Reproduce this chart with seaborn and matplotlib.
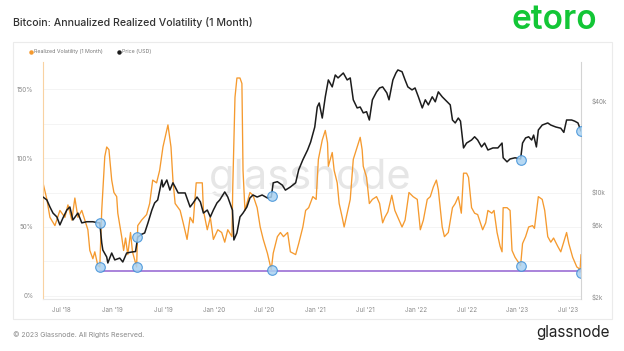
import pandas as pd
import matplotlib.pyplot as plt
from matplotlib.lines import Line2D
from matplotlib.patches import Rectangle
from matplotlib.ticker import MultipleLocator, NullLocator
import seaborn as sns

# ---------------------------
# data
# ---------------------------
vol_dates = [
    "2018-04-24", "2018-05-08", "2018-05-19", "2018-06-06", "2018-06-24", "2018-07-12", "2018-07-23",
    "2018-08-06", "2018-08-17", "2018-08-28", "2018-09-11", "2018-09-22", "2018-10-03", "2018-10-10",
    "2018-10-21", "2018-10-28", "2018-11-08", "2018-11-15", "2018-11-22", "2018-12-03", "2018-12-10",
    "2018-12-18", "2018-12-28",
    "2019-01-05", "2019-01-15", "2019-01-19", "2019-02-02", "2019-02-09", "2019-02-16", "2019-02-24",
    "2019-03-06", "2019-03-13", "2019-03-28", "2019-04-01", "2019-04-15", "2019-05-03", "2019-05-14",
    "2019-05-25", "2019-06-08", "2019-06-19", "2019-07-01", "2019-07-19", "2019-07-30", "2019-08-06",
    "2019-08-14", "2019-09-01", "2019-09-12", "2019-09-26", "2019-10-07", "2019-10-18", "2019-10-29",
    "2019-11-20", "2019-11-24", "2019-12-08", "2019-12-19", "2019-12-30",
    "2020-01-15", "2020-01-29", "2020-02-09", "2020-02-20", "2020-03-06", "2020-03-09", "2020-03-17",
    "2020-03-24", "2020-04-04", "2020-04-11", "2020-04-15", "2020-04-22", "2020-05-03", "2020-05-10",
    "2020-05-21", "2020-06-05", "2020-06-16", "2020-06-27", "2020-07-12", "2020-07-26", "2020-08-02",
    "2020-08-17", "2020-08-28", "2020-09-08", "2020-09-23", "2020-10-03", "2020-10-22", "2020-11-02",
    "2020-11-17", "2020-11-27", "2020-12-08", "2020-12-23",
    "2021-01-04", "2021-01-12", "2021-01-26", "2021-02-06", "2021-02-14", "2021-02-17", "2021-03-03",
    "2021-03-10", "2021-03-21", "2021-03-28", "2021-04-08", "2021-04-15", "2021-04-26", "2021-05-07",
    "2021-05-18", "2021-06-01", "2021-06-12", "2021-06-19", "2021-06-23", "2021-07-05", "2021-07-15",
    "2021-07-26", "2021-08-10", "2021-08-21", "2021-09-01", "2021-09-09", "2021-09-20", "2021-10-04",
    "2021-10-15", "2021-10-26", "2021-11-10", "2021-11-21", "2021-12-05", "2021-12-20",
    "2022-01-04", "2022-01-15", "2022-01-26", "2022-02-09", "2022-02-20", "2022-03-03", "2022-03-14",
    "2022-03-21", "2022-04-04", "2022-04-12", "2022-04-26", "2022-05-11", "2022-05-21", "2022-06-01",
    "2022-06-12", "2022-06-20", "2022-07-01", "2022-07-08", "2022-07-19", "2022-07-30", "2022-08-10",
    "2022-08-28", "2022-09-08", "2022-09-16", "2022-09-30", "2022-10-08", "2022-10-19", "2022-10-30",
    "2022-11-06", "2022-11-10", "2022-11-24", "2022-12-05", "2022-12-12", "2022-12-23",
    "2023-01-12", "2023-01-19", "2023-01-30", "2023-02-10", "2023-02-24", "2023-03-03", "2023-03-17",
    "2023-03-31", "2023-04-09", "2023-04-20", "2023-05-01", "2023-05-11", "2023-05-26", "2023-06-06",
    "2023-06-27", "2023-07-05", "2023-07-19", "2023-08-03", "2023-08-10", "2023-08-14", "2023-08-18",
]
vol_values = [
    82, 70, 57, 51, 62, 57, 66, 55, 71, 57, 62, 55, 48, 33, 27, 32, 22, 21, 62, 101, 108, 106, 84,
    75, 72, 60, 43, 33, 42, 30, 46, 32, 21, 51, 55, 59, 67, 84, 82, 91, 108, 124, 108, 84, 67, 62, 53,
    41, 57, 53, 82, 82, 62, 48, 57, 41,
    48, 46, 39, 48, 43, 79, 144, 158, 158, 154, 91, 62, 70, 75, 73, 64, 50, 41, 31, 19, 31, 43, 46, 43,
    46, 32, 30, 38, 50, 62, 64, 72,
    70, 99, 113, 120, 111, 94, 104, 91, 82, 67, 57, 50, 60, 70, 99, 108, 115, 106, 94, 86, 67, 70, 72,
    67, 53, 57, 61, 73, 62, 57, 50, 55, 75, 72,
    70, 48, 55, 70, 72, 79, 84, 77, 50, 43, 46, 64, 67, 72, 60, 89, 89, 86, 64, 60, 59, 48, 53, 62, 60,
    62, 46, 36, 32, 64, 64, 62, 33, 28,
    22, 38, 43, 50, 51, 49, 72, 70, 62, 43, 39, 42, 36, 32, 46, 38, 28, 21, 20, 17, 30,
]

price_dates = [
    "2018-04-24", "2018-05-08", "2018-05-19", "2018-05-30", "2018-06-13", "2018-06-24", "2018-07-05",
    "2018-07-19", "2018-07-30", "2018-08-10", "2018-08-28", "2018-09-11", "2018-09-29", "2018-10-21",
    "2018-11-08", "2018-11-15", "2018-11-22", "2018-11-26", "2018-12-10", "2018-12-14", "2018-12-28",
    "2019-01-08", "2019-01-26", "2019-02-06", "2019-02-20", "2019-03-10", "2019-03-24", "2019-04-01",
    "2019-04-15", "2019-04-26", "2019-05-08", "2019-05-22", "2019-06-01", "2019-06-12", "2019-06-27",
    "2019-07-01", "2019-07-15", "2019-07-26", "2019-08-06", "2019-08-14", "2019-08-25", "2019-09-19",
    "2019-10-07", "2019-10-18", "2019-11-01", "2019-11-13", "2019-11-24", "2019-12-08", "2019-12-19",
    "2019-12-30",
    "2020-01-12", "2020-01-22", "2020-02-09", "2020-02-20", "2020-03-08", "2020-03-13", "2020-03-24",
    "2020-04-04", "2020-04-15", "2020-04-29", "2020-05-10", "2020-05-21", "2020-06-05", "2020-06-23",
    "2020-07-12", "2020-07-26", "2020-08-02", "2020-08-17", "2020-09-04", "2020-09-15", "2020-10-03",
    "2020-10-22", "2020-11-02", "2020-11-17", "2020-12-04", "2020-12-15", "2020-12-30",
    "2021-01-08", "2021-01-15", "2021-01-26", "2021-02-06", "2021-02-17", "2021-03-03", "2021-03-14",
    "2021-03-24", "2021-04-12", "2021-04-26", "2021-05-07", "2021-05-18", "2021-06-01", "2021-06-12",
    "2021-06-23", "2021-07-05", "2021-07-15", "2021-07-26", "2021-08-10", "2021-08-21", "2021-09-01",
    "2021-09-16", "2021-09-24", "2021-10-08", "2021-10-19", "2021-10-26", "2021-11-10", "2021-11-21",
    "2021-12-01", "2021-12-16", "2021-12-27",
    "2022-01-08", "2022-01-22", "2022-02-02", "2022-02-13", "2022-02-27", "2022-03-10", "2022-03-21",
    "2022-04-04", "2022-04-22", "2022-05-03", "2022-05-11", "2022-05-21", "2022-06-01", "2022-06-09",
    "2022-06-20", "2022-07-01", "2022-07-19", "2022-07-30", "2022-08-10", "2022-08-24", "2022-09-04",
    "2022-09-16", "2022-10-04", "2022-10-22", "2022-11-06", "2022-11-10", "2022-11-24", "2022-12-05",
    "2022-12-23",
    "2023-01-12", "2023-01-19", "2023-01-30", "2023-02-10", "2023-02-21", "2023-02-28", "2023-03-10",
    "2023-03-17", "2023-03-31", "2023-04-20", "2023-05-01", "2023-05-19", "2023-06-06", "2023-06-17",
    "2023-06-27", "2023-07-15", "2023-07-26", "2023-08-07", "2023-08-18",
]
price_values = [
    9180, 8780, 7890, 7190, 6780, 6000, 6670, 7530, 7890, 6470, 7190, 6190, 6300, 6300, 6200, 6200,
    4560, 4090, 3680, 3360, 3910,
    3520, 3620, 3410, 3910, 3970, 4000, 4990, 5200, 5310, 6200, 7530, 8390, 8780, 11900, 10700, 11900,
    10200, 11400, 10700, 9770, 9770, 7890, 8390, 9180, 8530, 7190, 7530, 6780, 7530,
    8390, 8780, 9920, 9180, 7500, 4770, 5310, 6780, 7190, 7890, 9050, 9470, 9180, 9470, 9050, 9180,
    11400, 11600, 11000, 10200, 10700, 11400, 13900, 16200, 18800, 21200, 26700,
    36200, 38500, 30600, 42300, 54700, 49200, 59000, 56400, 60800, 54700, 56400, 40400, 35700, 36200,
    33100, 33700, 29700, 40400, 45600, 48400, 49200, 44900, 40400, 54700, 60800, 63700, 62000, 54700,
    49200, 47000, 48400,
    42300, 35700, 40400, 37400, 42300, 39200, 45600, 42300, 39200, 37400, 29700, 28400, 30600, 29200,
    19400, 20900, 21900, 23000, 21900, 19700, 20900, 18800, 19400, 19400, 20900, 16700, 15700, 16400,
    16700,
    16400, 20900, 22600, 23000, 21900, 23600, 19700, 25500, 27500, 28400, 27500, 26700, 26200, 24600,
    29700, 29700, 29200, 28400, 25100,
]

# low-volatility moments marked with circles
event_dates = ["2018-11-15", "2019-03-31", "2020-07-27", "2023-01-12", "2023-08-18"]
event_vol = [21, 21, 19, 22, 17]
event_price = [6200, 4990, 9330, 16200, 25100]

floor_dates = ["2018-11-15", "2023-08-18"]
floor_vol = [18.3, 18.3]

x_tick_dates = ["2018-07-01", "2019-01-01", "2019-07-01", "2020-01-01", "2020-07-01", "2021-01-01",
                "2021-07-01", "2022-01-01", "2022-07-01", "2023-01-01", "2023-07-01"]
x_tick_labels = ["Jul '18", "Jan '19", "Jul '19", "Jan '20", "Jul '20", "Jan '21",
                 "Jul '21", "Jan '22", "Jul '22", "Jan '23", "Jul '23"]
vol_ticks = [0, 50, 100, 150]
vol_tick_labels = ["0%", "50%", "100%", "150%"]
price_ticks = [2000, 6000, 10000, 40000]
price_tick_labels = ["$2k", "$6k", "$10k", "$40k"]

# ---------------------------
# style
# ---------------------------
sns.set_theme(style="white")
plt.rcParams['font.family'] = ['Inter', 'DejaVu Sans']

orange = '#f59a2f'
dark = '#1c1c1c'
tick_grey = '#8a8a8a'

vol_df = pd.DataFrame({'date': pd.to_datetime(vol_dates), 'vol': vol_values})
price_df = pd.DataFrame({'date': pd.to_datetime(price_dates), 'price': price_values})
event_df = pd.DataFrame({'date': pd.to_datetime(event_dates), 'vol': event_vol, 'price': event_price})
floor_df = pd.DataFrame({'date': pd.to_datetime(floor_dates), 'vol': floor_vol})

fig = plt.figure(figsize=(6.24, 3.51), dpi=100)
fig.patch.set_facecolor('white')

# card frame
fig.patches.append(Rectangle((13 / 624, 1 - 319 / 351), 599 / 624, 277 / 351,
                             transform=fig.transFigure, fill=False, ec='#ebebeb', lw=0.8))

ax = fig.add_axes([43 / 624, 52 / 351, 538 / 624, 237 / 351])
ax2 = ax.twinx()

# watermark
ax.text(0.496, 0.51, 'glassnode', transform=ax.transAxes, fontsize=30, color='#e6e6e6',
        ha='center', va='center', zorder=0)

# volatility (left axis)
sns.lineplot(data=vol_df, x='date', y='vol', ax=ax, color=orange, lw=0.95, zorder=2)
sns.lineplot(data=floor_df, x='date', y='vol', ax=ax, color='#a27ad8', lw=1.3, zorder=3)
sns.scatterplot(data=event_df, x='date', y='vol', ax=ax, s=48, color='#a9d2f2',
                edgecolor='#3d8fd6', linewidth=0.8, alpha=0.85, zorder=5)

# price (right axis, log)
sns.lineplot(data=price_df, x='date', y='price', ax=ax2, color=dark, lw=1.1, zorder=2)
sns.scatterplot(data=event_df, x='date', y='price', ax=ax2, s=48, color='#a9d2f2',
                edgecolor='#3d8fd6', linewidth=0.8, alpha=0.85, zorder=5)

ax.set_xlim(pd.Timestamp('2018-04-24'), pd.Timestamp('2023-08-18'))
ax.set_ylim(-2.2, 169.6)
ax2.set_yscale('log')
ax2.set_ylim(1940, 71900)

ax.set_xticks(pd.to_datetime(x_tick_dates))
ax.set_xticklabels(x_tick_labels)
ax.set_yticks(vol_ticks)
ax.set_yticklabels(vol_tick_labels)
ax.yaxis.set_minor_locator(MultipleLocator(25))
ax2.set_yticks(price_ticks)
ax2.set_yticklabels(price_tick_labels)
ax2.yaxis.set_minor_locator(NullLocator())

ax.grid(True, which='both', axis='y', color='#f3f3f3', lw=0.6)
ax.grid(False, axis='x')

ax.tick_params(axis='both', which='both', length=0, labelsize=4.5, labelcolor=tick_grey)
ax.tick_params(axis='y', pad=7)
ax.tick_params(axis='x', pad=6)
ax2.tick_params(axis='y', which='both', length=0, labelsize=4.5, labelcolor=tick_grey, pad=8)

for a in (ax, ax2):
    a.set_xlabel('')
    a.set_ylabel('')
    a.spines['top'].set_visible(False)
ax.spines['right'].set_visible(False)
ax.spines['left'].set_color('#f9d2a2')
ax.spines['left'].set_linewidth(0.8)
ax.spines['bottom'].set_color('#e8e8e8')
ax.spines['bottom'].set_linewidth(0.8)
ax2.spines['left'].set_visible(False)
ax2.spines['bottom'].set_visible(False)
ax2.spines['right'].set_color('#d4d4d4')
ax2.spines['right'].set_linewidth(0.8)

# legend
handles = [
    Line2D([], [], marker='o', ls='', color=orange, ms=2.2, label='Realized Volatility (1 Month)'),
    Line2D([], [], marker='o', ls='', color=dark, ms=2.2, label='Price (USD)'),
]
fig.legend(handles=handles, loc='center left', bbox_to_anchor=(25 / 624, 1 - 52 / 351), ncol=2,
           frameon=False, fontsize=3.8, handletextpad=0.3, columnspacing=2.6, handlelength=0.6,
           labelcolor='#777777')

# header / footer text
fig.text(13 / 624, 1 - 22 / 351, 'Bitcoin: Annualized Realized Volatility (1 Month)',
         fontsize=7.6, color='#333333', ha='left', va='center', fontweight='medium')
fig.text(554 / 624, 1 - 20 / 351, 'etoro', fontsize=24, color='#13c636', ha='center', va='center',
         fontweight='semibold')
fig.text(13 / 624, 1 - 335 / 351, '\u00a9 2023 Glassnode. All Rights Reserved.', fontsize=5,
         color='#8a8a8a', ha='left', va='center')
fig.text(610 / 624, 1 - 333 / 351, 'glassnode', fontsize=11, color='#222222', ha='right', va='center')

fig.savefig('out.png', dpi=100)
